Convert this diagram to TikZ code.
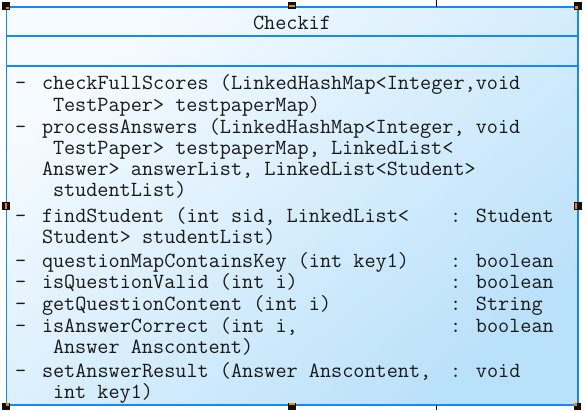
\documentclass[tikz,border=0pt]{standalone}
\usepackage{fontspec}
\definecolor{umlblue}{RGB}{20,136,255}
\definecolor{filltop}{RGB}{246,251,255}
\definecolor{fillbot}{RGB}{186,225,250}
\definecolor{handleorange}{RGB}{255,128,0}
\definecolor{handleblack}{RGB}{16,16,16}
\definecolor{txt}{RGB}{25,25,25}
\tikzset{
  umltext/.style={anchor=base west,inner sep=0pt,outer sep=0pt,text=txt,font=\ttfamily\fontsize{21.6}{26}\selectfont},
  umltitle/.style={anchor=base,inner sep=0pt,outer sep=0pt,text=txt,font=\ttfamily\fontsize{21.6}{26}\selectfont},
  umledge/.style={draw=umlblue,line width=1.3pt},
  handlebox/.style={fill=handleblack,draw=none},
  handlemark/.style={fill=handleorange,draw=none},
  connline/.style={draw=black,line width=0.8pt}
}
\begin{document}
\begin{tikzpicture}[x=1pt,y=-1pt]
\useasboundingbox (0,0) rectangle (586,410);
% box
\coordinate (bnw) at (6.5,7);
\coordinate (bse) at (578,405);
\shade[top color=filltop,bottom color=fillbot,shading angle=40] (bnw) rectangle (bse);
\draw[umledge] (bnw) rectangle (bse);
\coordinate (s1l) at (6.5,36);
\coordinate (s1r) at (578,36);
\coordinate (s2l) at (6.5,66);
\coordinate (s2r) at (578,66);
\draw[umledge] (s1l) -- (s1r);
\draw[umledge] (s2l) -- (s2r);
% connector fragments
\coordinate (ct1) at (436,0);
\coordinate (ct2) at (436,7);
\coordinate (cb1) at (436,405);
\coordinate (cb2) at (436,410);
\draw[connline] (ct1) -- (ct2);
\draw[connline] (cb1) -- (cb2);
% title
\node[umltitle] (title) at (292,29) {Checkif};
% dashes
\foreach \yy/\nm in {89/d1,133/d2,222/d3,267/d4,288/d5,310/d6,332/d7,377/d8}
  \node[umltext] (\nm) at (15,\yy) {-};
% operation lines
\node[umltext] (o1) at (42,89) {checkFullScores (LinkedHashMap<Integer,void};
\node[umltext] (o1b) at (53,111) {TestPaper> testpaperMap)};
\node[umltext] (o2) at (42,133) {processAnswers (LinkedHashMap<Integer, void};
\node[umltext] (o2b) at (53,154) {TestPaper> testpaperMap, LinkedList<};
\node[umltext] (o2c) at (42,175) {Answer> answerList, LinkedList<Student>};
\node[umltext] (o2d) at (53,196) {studentList)};
\node[umltext] (o3) at (42,222) {findStudent (int sid, LinkedList<};
\node[umltext] (o3b) at (42,243) {Student> studentList)};
\node[umltext] (o4) at (42,267) {questionMapContainsKey (int key1)};
\node[umltext] (o5) at (42,288) {isQuestionValid (int i)};
\node[umltext] (o6) at (42,310) {getQuestionContent (int i)};
\node[umltext] (o7) at (42,332) {isAnswerCorrect (int i,};
\node[umltext] (o7b) at (53,353) {Answer Anscontent)};
\node[umltext] (o8) at (42,377) {setAnswerResult (Answer Anscontent,};
\node[umltext] (o8b) at (53,398) {int key1)};
% return types
\node[umltext] (r3) at (450,222) {: Student};
\node[umltext] (r4) at (450,267) {: boolean};
\node[umltext] (r5) at (450,288) {: boolean};
\node[umltext] (r6) at (450,310) {: String};
\node[umltext] (r7) at (450,332) {: boolean};
\node[umltext] (r8) at (450,377) {: void};
% selection handles
\fill[handlebox] (2,2) rectangle (9.5,9.5);
\fill[handlemark] (6,6.5) rectangle (9,9);
\fill[handlebox] (288,2) rectangle (295.5,9);
\fill[handlemark] (289,4.5) rectangle (294.5,6.5);
\fill[handlebox] (574,2) rectangle (581.5,9.5);
\fill[handlemark] (574.5,6) rectangle (577.5,9);
\fill[handlebox] (2,202) rectangle (9.5,210);
\fill[handlemark] (4.5,203) rectangle (6.8,209);
\fill[handlebox] (574,202) rectangle (581.5,210);
\fill[handlemark] (574.5,203) rectangle (577,209);
\fill[handlebox] (2,402.5) rectangle (9.5,410);
\fill[handlemark] (6,403) rectangle (9,406);
\fill[handlebox] (288,402.5) rectangle (295.5,410);
\fill[handlemark] (289,403) rectangle (294.5,405);
\fill[handlebox] (573.5,402.5) rectangle (581,410);
\fill[handlemark] (574,403) rectangle (577,406);
\end{tikzpicture}
\end{document}
